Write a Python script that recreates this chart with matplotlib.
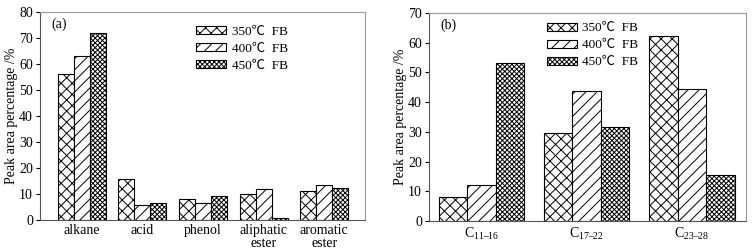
import matplotlib
matplotlib.use("Agg")
import matplotlib.pyplot as plt
import numpy as np

plt.rcParams['font.family'] = ['Liberation Serif', 'Noto Sans CJK SC', 'DejaVu Sans']
plt.rcParams['mathtext.fontset'] = 'custom'
plt.rcParams['mathtext.rm'] = 'Liberation Serif'
plt.rcParams['hatch.linewidth'] = 0.7

series = ['350℃  FB', '400℃  FB', '450℃  FB']

cat_a = ['alkane', 'acid', 'phenol', 'aliphatic\nester', 'aromatic\nester']
a_350 = [56.0, 15.6, 8.1, 9.9, 11.0]
a_400 = [63.1, 5.9, 6.4, 11.8, 13.3]
a_450 = [72.0, 6.4, 9.3, 0.6, 12.2]

cat_b = [r'C$_{\mathrm{11–16}}$', r'C$_{\mathrm{17–22}}$', r'C$_{\mathrm{23–28}}$']
b_350 = [8.1, 29.7, 62.1]
b_400 = [12.3, 43.7, 44.3]
b_450 = [53.3, 31.5, 15.4]

hatches = ['xxx', '///', 'xxxxxxx']

fig = plt.figure(figsize=(7.54, 2.49), dpi=100)
ax1 = fig.add_axes([0.053, 0.1165, 0.431, 0.8355])
ax2 = fig.add_axes([0.569, 0.112, 0.420, 0.836])

def draw(ax, cats, vals, width, xlim, ylim, yticks, label, lx, ly):
    x = np.arange(len(cats))
    for i, (v, h) in enumerate(zip(vals, hatches)):
        ax.bar(x + (i - 1) * width, v, width, facecolor='white', edgecolor='black',
               hatch=h, linewidth=0.8, label=series[i])
    ax.set_xlim(*xlim)
    ax.set_ylim(*ylim)
    ax.set_yticks(yticks)
    ax.set_xticks(x)
    ax.set_xticklabels(cats, fontsize=10, linespacing=0.95)
    ax.tick_params(axis='x', length=0, pad=3)
    ax.tick_params(axis='y', length=3, width=0.8, labelsize=10, direction='out', pad=2)
    for s in ['top', 'right']:
        ax.spines[s].set_color('#999999')
    for s in ['left', 'bottom']:
        ax.spines[s].set_color('#555555')
    ax.set_ylabel('Peak area percentage /%', fontsize=10, labelpad=1)
    ax.text(0.035, 0.975, label, transform=ax.transAxes, fontsize=10, va='top', ha='left')
    ax.legend(loc='upper left', bbox_to_anchor=(lx, ly), frameon=False, fontsize=9.5,
              handlelength=2.3, handleheight=0.55, labelspacing=0.38, handletextpad=0.4,
              borderaxespad=0, borderpad=0)

draw(ax1, cat_a, [a_350, a_400, a_450], 0.265, (-0.687, 4.67), (0, 80),
     range(0, 81, 10), '(a)', 0.48, 0.935)
draw(ax2, cat_b, [b_350, b_400, b_450], 0.27, (-0.497, 2.51), (0, 70),
     range(0, 71, 10), '(b)', 0.372, 0.955)

fig.savefig('out.png', dpi=100)
